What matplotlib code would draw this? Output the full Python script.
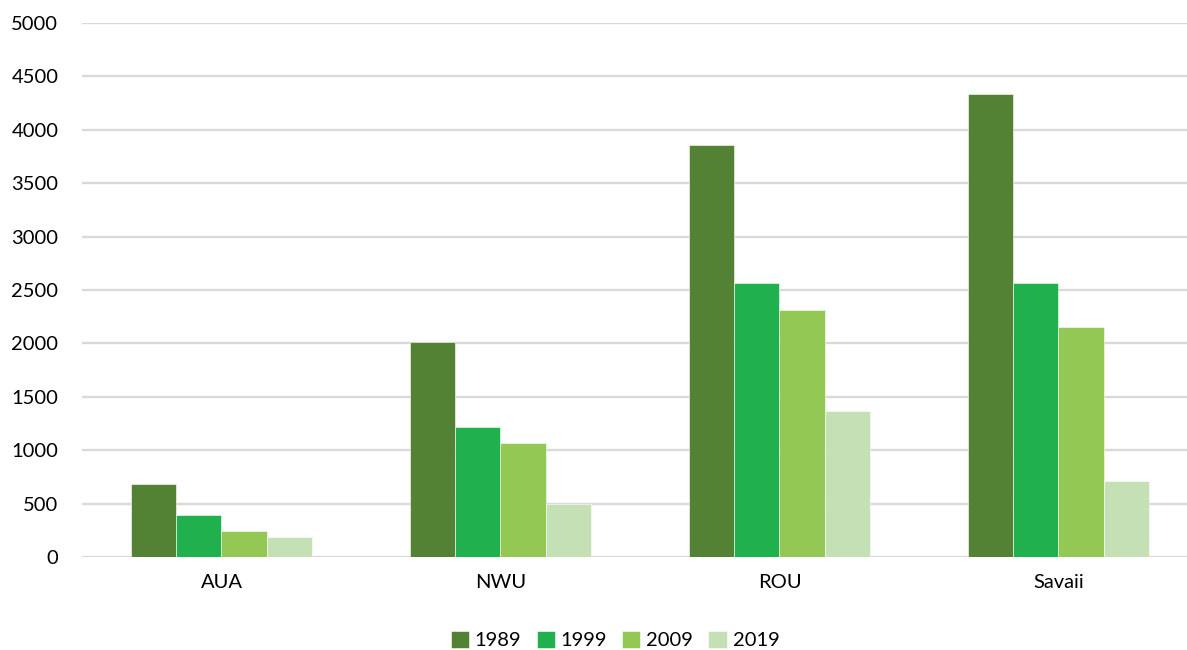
import matplotlib.pyplot as plt
import numpy as np

# data
regions = ["AUA", "NWU", "ROU", "Savaii"]
years = ["1989", "1999", "2009", "2019"]
v1989 = [688, 2012, 3856, 4334]
v1999 = [393, 1215, 2565, 2565]
v2009 = [243, 1067, 2312, 2150]
v2019 = [187, 496, 1367, 711]
colors = ["#548235", "#21B04E", "#92C853", "#C5E0B4"]

plt.rcParams['font.family'] = ['Lato', 'DejaVu Sans']

fig = plt.figure(figsize=(11.87, 6.5), dpi=100)
ax = fig.add_axes([82 / 1187, 1 - 557 / 650, 1116 / 1187, 534 / 650])

x = np.arange(len(regions))
w = 0.162
for i, (vals, yr) in enumerate(zip([v1989, v1999, v2009, v2019], years)):
    ax.bar(x + (i - 1.5) * w, vals, w, color=colors[i], label=yr,
           edgecolor="white", linewidth=0.4, zorder=3)

ax.set_xlim(-0.5, 3.5)
ax.set_ylim(0, 5000)
ax.set_yticks(range(0, 5001, 500))
ax.yaxis.grid(True, color="#D9D9D9", linewidth=1.7, zorder=0)
ax.set_axisbelow(True)
for s in ax.spines.values():
    s.set_visible(False)
ax.tick_params(length=0, labelsize=14.5, colors="#000000")
ax.tick_params(axis="y", pad=17)
ax.tick_params(axis="x", pad=12)
ax.set_xticks(x)
ax.set_xticklabels(regions)

fig.legend(loc="center", bbox_to_anchor=(615 / 1187, 1 - 640 / 650), ncol=4,
           frameon=False, fontsize=14.5, handlelength=0.9, handleheight=0.9,
           handletextpad=0.3, columnspacing=0.75)

fig.savefig("out.png", dpi=100)
